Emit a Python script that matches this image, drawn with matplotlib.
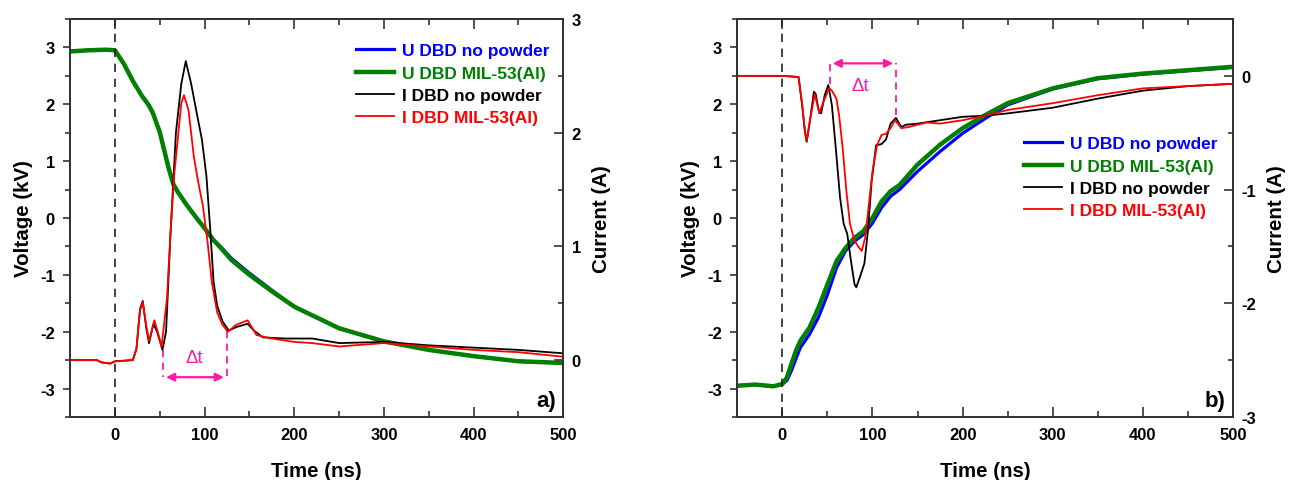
import matplotlib
matplotlib.use("Agg")
import matplotlib.pyplot as plt
from matplotlib.ticker import MultipleLocator

# ---- panel a) voltage (kV) ----
t_u_a = [-50, -30, -10, 0, 10, 20, 30, 37, 42, 50, 55, 60, 65, 70, 80, 90, 100,
         110, 120, 130, 150, 175, 200, 250, 300, 350, 400, 450, 500]
u_nopowder_a = [2.93, 2.95, 2.96, 2.95, 2.71, 2.41, 2.15, 2.0, 1.86, 1.51, 1.19, 0.87,
                0.60, 0.46, 0.23, 0.02, -0.18, -0.39, -0.54, -0.71, -0.97, -1.27,
                -1.56, -1.94, -2.17, -2.32, -2.43, -2.52, -2.55]
u_mil_a = [2.93, 2.95, 2.96, 2.95, 2.71, 2.41, 2.15, 2.0, 1.86, 1.51, 1.19, 0.87,
           0.60, 0.46, 0.23, 0.02, -0.18, -0.39, -0.56, -0.74, -1.0, -1.29,
           -1.56, -1.94, -2.17, -2.32, -2.43, -2.52, -2.55]

# ---- panel a) current (A) ----
t_i_nopowder_a = [-50, -20, -15, -5, 0, 20, 24, 28, 31, 35, 38, 43, 47, 53, 57, 62, 68,
                  74, 79, 85, 92, 97, 102, 106, 110, 114, 120, 127, 135, 148, 155,
                  165, 190, 220, 250, 300, 350, 400, 450, 500]
i_nopowder_a = [0.0, 0.0, -0.02, -0.03, -0.01, 0.0, 0.10, 0.45, 0.52, 0.28, 0.15, 0.32,
                0.25, 0.09, 0.25, 1.12, 2.0, 2.43, 2.63, 2.43, 2.14, 1.94, 1.62, 1.18,
                0.69, 0.48, 0.34, 0.26, 0.29, 0.32, 0.26, 0.20, 0.19, 0.19, 0.15, 0.16,
                0.13, 0.11, 0.09, 0.06]
t_i_mil_a = [-50, -20, -15, -5, 0, 20, 24, 28, 31, 35, 38, 44, 48, 52, 58, 62, 66, 70,
             74, 77, 82, 88, 93, 98, 103, 108, 114, 120, 126, 135, 148, 158, 175,
             200, 220, 250, 300, 350, 400, 450, 500]
i_mil_a = [0.0, 0.0, -0.02, -0.03, -0.01, 0.0, 0.10, 0.44, 0.51, 0.30, 0.17, 0.35, 0.24,
           0.12, 0.54, 1.12, 1.62, 1.94, 2.26, 2.33, 2.2, 1.79, 1.56, 1.36, 1.06, 0.69,
           0.42, 0.31, 0.25, 0.31, 0.35, 0.22, 0.19, 0.16, 0.15, 0.12, 0.15, 0.12,
           0.09, 0.07, 0.03]

# ---- panel b) voltage (kV) ----
t_u_b = [-50, -30, -10, 0, 5, 10, 15, 20, 30, 40, 50, 60, 70, 80, 90, 100, 110, 120,
         130, 150, 175, 200, 225, 250, 300, 350, 400, 450, 500]
u_nopowder_b = [-2.95, -2.93, -2.96, -2.92, -2.86, -2.69, -2.48, -2.28, -2.05, -1.75,
                -1.35, -0.88, -0.58, -0.41, -0.29, -0.09, 0.18, 0.38, 0.50, 0.82,
                1.17, 1.49, 1.75, 1.99, 2.27, 2.45, 2.53, 2.59, 2.65]
u_mil_b = [-2.95, -2.93, -2.96, -2.92, -2.81, -2.57, -2.34, -2.16, -1.93, -1.58,
           -1.17, -0.76, -0.53, -0.35, -0.23, 0.0, 0.29, 0.47, 0.58, 0.94, 1.29,
           1.58, 1.81, 2.02, 2.28, 2.46, 2.54, 2.60, 2.66]

# ---- panel b) current (A) ----
t_i_nopowder_b = [-50, -20, 0, 18, 22, 25, 27, 30, 35, 37, 40, 43, 47, 51, 55, 60, 64,
                  68, 72, 76, 80, 82, 86, 91, 95, 99, 104, 110, 115, 120, 126, 132,
                  137, 150, 175, 200, 225, 250, 300, 350, 400, 450, 500]
i_nopowder_b = [0.0, 0.0, 0.0, -0.01, -0.26, -0.49, -0.58, -0.43, -0.14, -0.16, -0.29,
                -0.33, -0.17, -0.08, -0.26, -0.70, -1.07, -1.30, -1.39, -1.62, -1.83,
                -1.86, -1.77, -1.65, -1.36, -0.93, -0.61, -0.60, -0.56, -0.42, -0.37,
                -0.45, -0.43, -0.42, -0.39, -0.36, -0.35, -0.33, -0.28, -0.20, -0.13,
                -0.09, -0.07]
t_i_mil_b = [-50, -20, 0, 18, 22, 25, 27, 30, 36, 41, 46, 52, 55, 60, 63, 67, 71, 75,
             80, 85, 88, 92, 96, 100, 105, 110, 115, 120, 125, 132, 140, 160, 175,
             200, 225, 250, 300, 350, 400, 450, 500]
i_mil_b = [0.0, 0.0, 0.0, -0.01, -0.25, -0.48, -0.57, -0.42, -0.16, -0.33, -0.22,
           -0.11, -0.13, -0.20, -0.35, -0.64, -1.01, -1.30, -1.45, -1.51, -1.54,
           -1.42, -1.13, -0.84, -0.61, -0.52, -0.51, -0.46, -0.39, -0.46, -0.45,
           -0.41, -0.42, -0.39, -0.35, -0.30, -0.24, -0.17, -0.11, -0.09, -0.07]

labels = ["U DBD no powder", "U DBD MIL-53(Al)", "I DBD no powder", "I DBD MIL-53(Al)"]
colors = ["#0000ff", "#008000", "#000000", "#ff0000"]
MAGENTA = "#ff1aa3"

plt.rcParams["font.family"] = ["Liberation Sans", "DejaVu Sans"]
plt.rcParams["font.weight"] = "bold"
plt.rcParams["axes.unicode_minus"] = False


def style_spines(ax):
    for s in ax.spines.values():
        s.set_linewidth(1.3)
        s.set_color("#333333")


def draw_panel(fig, rect, u_data, i_data, ilim, dt, panel, leg_xy):
    ax = fig.add_axes(rect)
    ax2 = ax.twinx()

    (t_u, u0, u1) = u_data
    (t_i0, i0, t_i1, i1) = i_data

    h1, = ax.plot(t_u, u0, color=colors[0], lw=2.3)
    h2, = ax.plot(t_u, u1, color=colors[1], lw=3.2)
    h3, = ax2.plot(t_i0, i0, color=colors[2], lw=1.3)
    h4, = ax2.plot(t_i1, i1, color=colors[3], lw=1.3)

    ax.axvline(0, color="#222222", lw=1.2, ls=(0, (5, 4)))

    ax.set_xlim(-50, 500)
    ax.set_ylim(-3.5, 3.5)
    ax2.set_ylim(*ilim)
    ax.xaxis.set_major_locator(MultipleLocator(100))
    ax.xaxis.set_minor_locator(MultipleLocator(50))
    ax.yaxis.set_major_locator(MultipleLocator(1))
    ax.yaxis.set_minor_locator(MultipleLocator(0.5))
    ax2.yaxis.set_major_locator(MultipleLocator(1))
    ax2.yaxis.set_minor_locator(MultipleLocator(0.5))

    # ticks: x inward (top and bottom), left y outward, right y inward
    style_spines(ax)
    style_spines(ax2)
    common = dict(colors="#333333", labelcolor="black", labelsize=12, width=1.2)
    ax.tick_params(axis="x", which="both", direction="in", top=True, pad=7, **common)
    ax.tick_params(axis="x", which="major", length=7)
    ax.tick_params(axis="x", which="minor", length=4)
    ax.tick_params(axis="y", which="both", direction="out", pad=6, **common)
    ax.tick_params(axis="y", which="major", length=5)
    ax.tick_params(axis="y", which="minor", length=3.5)
    ax2.tick_params(axis="y", which="both", direction="in", pad=6, **common)
    ax2.tick_params(axis="y", which="major", length=6.5)
    ax2.tick_params(axis="y", which="minor", length=3.5)

    ax.set_xlabel("Time (ns)", fontsize=14.8, fontweight="bold", labelpad=14)
    ax.set_ylabel("Voltage (kV)", fontsize=14.8, fontweight="bold", labelpad=5)
    ax2.set_ylabel("Current (A)", fontsize=14.8, fontweight="bold", labelpad=8)

    # delta t marker
    x0, x1, y_arrow, y0_top, y1_top, tx, ty = dt
    ax.plot([x0, x0], [y0_top, y_arrow], color=MAGENTA, lw=1.3, ls=(0, (4, 3)))
    ax.plot([x1, x1], [y1_top, y_arrow], color=MAGENTA, lw=1.3, ls=(0, (4, 3)))
    ax.annotate("", xy=(x0 + 3, y_arrow), xytext=(x1 - 3, y_arrow),
                arrowprops=dict(arrowstyle="<|-|>", color=MAGENTA, lw=1.6,
                                mutation_scale=12, shrinkA=0, shrinkB=0))
    ax.text(tx, ty, "\u0394t", color=MAGENTA, fontsize=13.5, fontweight="normal",
            ha="center", va="center")

    ax2.text(0.985, 0.028, panel, transform=ax.transAxes, ha="right", va="baseline",
             fontsize=16, fontweight="bold")

    leg = ax2.legend([h1, h2, h3, h4], labels, loc="upper left",
                     bbox_to_anchor=leg_xy, bbox_transform=fig.transFigure,
                     frameon=False, fontsize=12.5, handlelength=2.2,
                     handletextpad=0.45, labelspacing=0.42, borderpad=0,
                     borderaxespad=0)
    for txt, c in zip(leg.get_texts(), colors):
        txt.set_color(c)
        txt.set_fontweight("bold")
    return ax, ax2


def main():
    fig = plt.figure(figsize=(12.98, 4.81), dpi=100)

    draw_panel(fig, [0.054, 0.131, 0.380, 0.8274],
               (t_u_a, u_nopowder_a, u_mil_a),
               (t_i_nopowder_a, i_nopowder_a, t_i_mil_a, i_mil_a),
               (-0.5, 3), (54, 124.5, -2.8, -2.32, -1.99, 88.6, -2.46), "a)",
               (356 / 1298, 1 - 44 / 481))

    draw_panel(fig, [0.568, 0.131, 0.382, 0.8274],
               (t_u_b, u_nopowder_b, u_mil_b),
               (t_i_nopowder_b, i_nopowder_b, t_i_mil_b, i_mil_b),
               (-3, 0.5), (52.8, 126, 2.72, 2.35, 1.81, 86.7, 2.33), "b)",
               (1024 / 1298, 1 - 137 / 481))

    fig.savefig("out.png", dpi=100)
    plt.close(fig)


if __name__ == "__main__":
    main()
